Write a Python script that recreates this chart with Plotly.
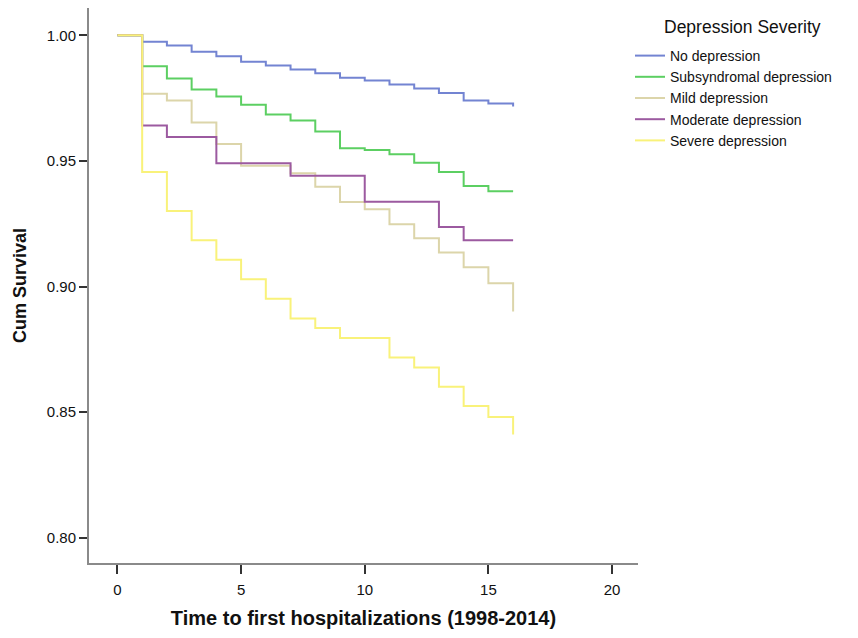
import plotly.graph_objects as go

times = list(range(0, 17))

series_names = ["No depression", "Subsyndromal depression", "Mild depression",
                "Moderate depression", "Severe depression"]

no_dep = [1.0, 0.9975, 0.996, 0.9935, 0.9917, 0.9895, 0.988, 0.9864, 0.9849,
          0.9831, 0.982, 0.9804, 0.9788, 0.9771, 0.9741, 0.9729, 0.9717]
subsyndromal = [1.0, 0.9877, 0.9828, 0.9784, 0.9757, 0.9724, 0.9685, 0.9661, 0.9617,
                0.9551, 0.9544, 0.9527, 0.9493, 0.9456, 0.94, 0.9379, 0.9379]
mild = [1.0, 0.9768, 0.9741, 0.9653, 0.9567, 0.9481, 0.9481, 0.9451, 0.9397,
        0.9336, 0.9308, 0.9248, 0.9192, 0.9135, 0.9077, 0.9013, 0.890]
moderate = [1.0, 0.9641, 0.9595, 0.9595, 0.9491, 0.9491, 0.9491, 0.9441, 0.9441,
            0.9441, 0.9337, 0.9337, 0.9337, 0.9237, 0.9184, 0.9184, 0.9184]
severe = [1.0, 0.9456, 0.9301, 0.9184, 0.9107, 0.9029, 0.8951, 0.8873, 0.8835,
          0.8795, 0.8795, 0.8717, 0.8677, 0.8601, 0.8524, 0.848, 0.8411]

colors = ["#7384d2", "#5ccf62", "#dcd5aa", "#9c5aa0", "#f9f27a"]

x_ticks = [0, 5, 10, 15, 20]
y_ticks = [0.80, 0.85, 0.90, 0.95, 1.00]

legend_title = "Depression Severity"

fig = go.Figure()
for name, vals, col in zip(series_names, [no_dep, subsyndromal, mild, moderate, severe], colors):
    fig.add_trace(go.Scatter(x=times, y=vals, mode="lines", name=name,
                             line=dict(color=col, width=2, shape="hv")))

font_family = "Liberation Sans, Arial, sans-serif"

fig.add_annotation(text=legend_title, xref="paper", yref="paper",
                   x=(662 - 89) / (638 - 89), y=1 + (8 - 27.5) / (563 - 8),
                   xanchor="left", yanchor="middle", showarrow=False,
                   font=dict(size=17.5, color="#111111"))

fig.update_layout(
    width=858, height=638,
    margin=dict(l=89, r=220, t=8, b=75, autoexpand=False),
    plot_bgcolor="white", paper_bgcolor="white",
    font=dict(family=font_family, size=14, color="#111111"),
    showlegend=True,
    legend=dict(
        xref="container", yref="container",
        x=630 / 858, y=1 - 40 / 638, xanchor="left", yanchor="top",
        font=dict(size=14, color="#111111"),
        bgcolor="rgba(0,0,0,0)",
        itemwidth=30, tracegroupgap=0,
    ),
    xaxis=dict(
        range=[-1.15, 21.05], tickvals=x_ticks, ticktext=[str(v) for v in x_ticks],
        showgrid=False, zeroline=False, showline=True, linecolor="#8a8a8a", linewidth=2,
        ticks="outside", ticklen=9, tickwidth=2, tickcolor="#333333",
        tickfont=dict(size=15), ticklabelstandoff=3,
        title=dict(text="<b>Time to first hospitalizations (1998-2014)</b>",
                   font=dict(size=20), standoff=14),
    ),
    yaxis=dict(
        range=[0.7899, 1.0109], tickvals=y_ticks, ticktext=["%.2f" % v for v in y_ticks],
        showgrid=False, zeroline=False, showline=True, linecolor="#8a8a8a", linewidth=2,
        ticks="outside", ticklen=8, tickwidth=2, tickcolor="#333333",
        tickfont=dict(size=15),
        title=dict(text="<b>Cum Survival</b>", font=dict(size=18), standoff=15),
    ),
)

fig.write_html("out.html")
